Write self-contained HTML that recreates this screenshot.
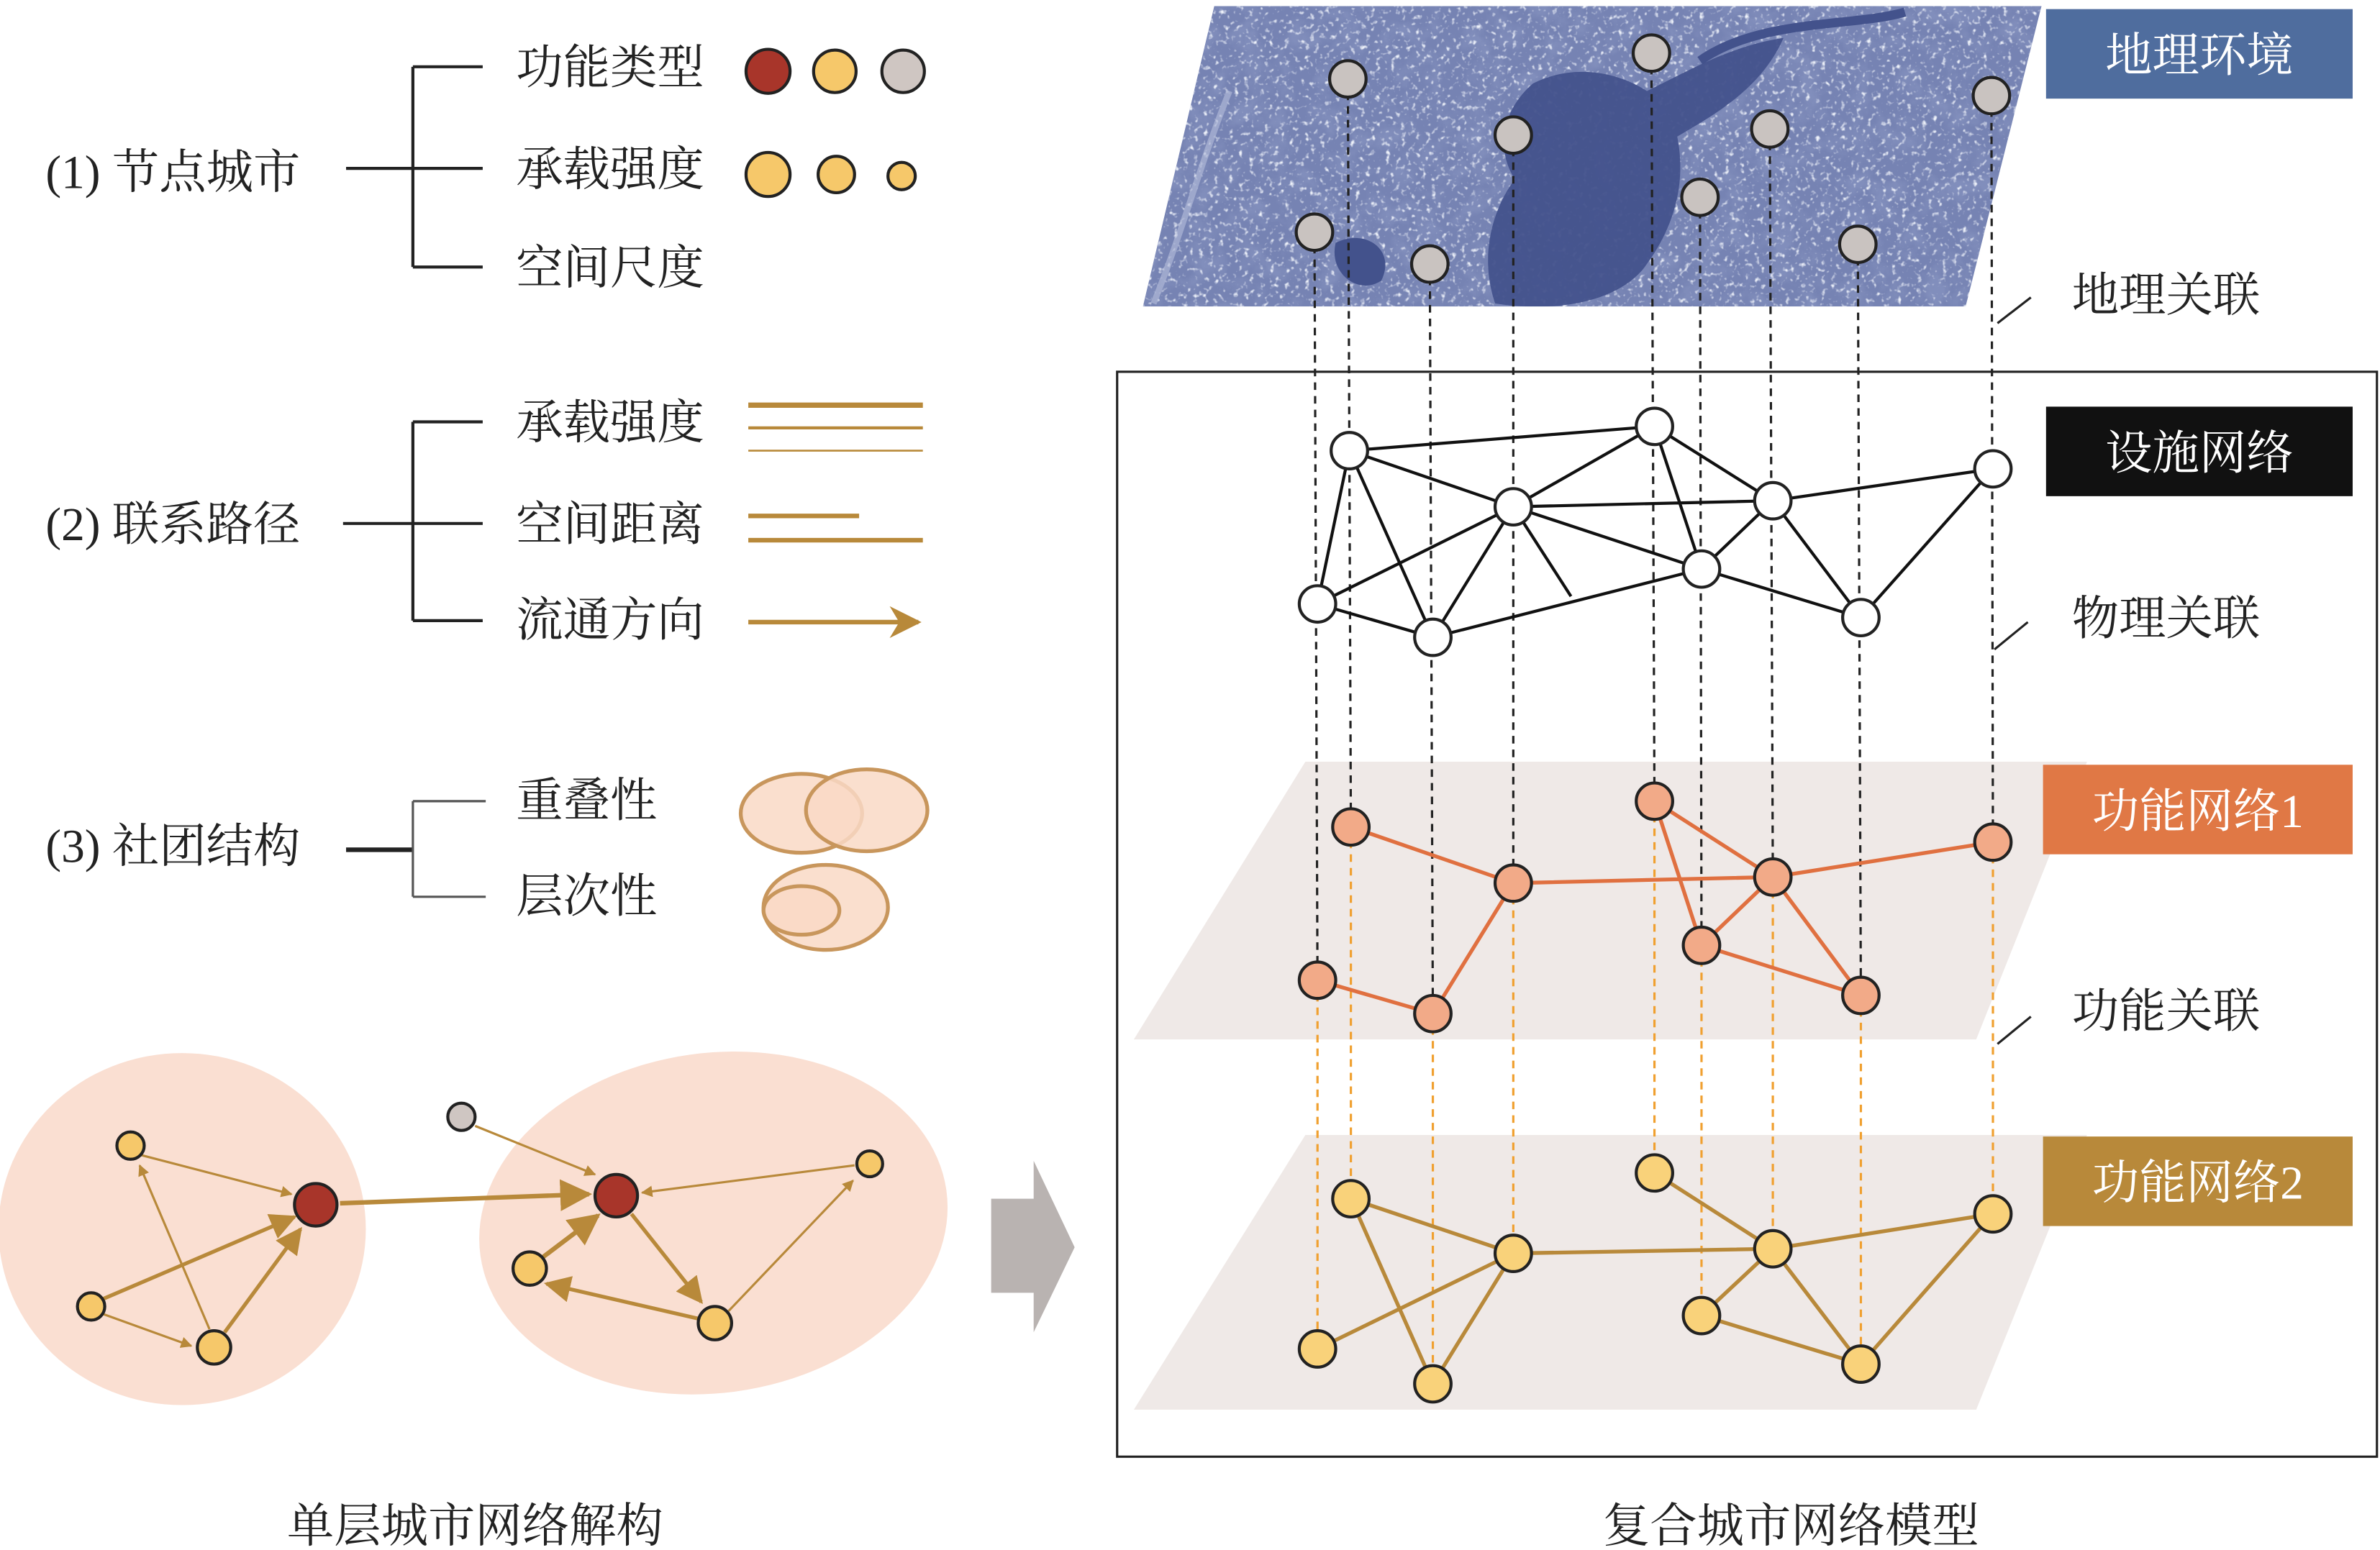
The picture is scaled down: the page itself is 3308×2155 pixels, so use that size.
<!DOCTYPE html>
<html><head><meta charset="utf-8">
<style>
html,body{margin:0;padding:0;background:#fff;}
svg{display:block;}
text{font-family:"Liberation Serif","Noto Serif CJK SC",serif;}
</style></head>
<body>
<svg width="3308" height="2155" viewBox="0 0 1568 1021.5" xmlns="http://www.w3.org/2000/svg">
<defs>
<marker id="ah" viewBox="0 0 10 10" refX="9" refY="5" markerWidth="5" markerHeight="5" orient="auto"><path d="M0,0 L10,5 L0,10 z" fill="#b8893a"/></marker>
<marker id="ah2" viewBox="0 0 10 10" refX="9" refY="5" markerWidth="7" markerHeight="7" orient="auto"><path d="M0,0 L10,5 L0,10 z" fill="#b8893a"/></marker>
<marker id="ahL" viewBox="0 0 10 10" refX="9" refY="5" markerWidth="9" markerHeight="7" orient="auto"><path d="M0,0 L10,5 L0,10 L3,5 z" fill="#b8893a"/></marker>
<clipPath id="sat"><path d="M800,4 L1345,4 L1295,202 L753,202 Z"/></clipPath>
<filter id="noise" x="0" y="0" width="100%" height="100%">
<feTurbulence type="fractalNoise" baseFrequency="0.06" numOctaves="4" seed="4"/>
<feColorMatrix type="matrix" values="0 0 0 0 0.22  0 0 0 0 0.27  0 0 0 0 0.5  3 0 0 0 -1.3"/>
</filter>
<filter id="speck" x="0" y="0" width="100%" height="100%">
<feTurbulence type="fractalNoise" baseFrequency="0.3" numOctaves="2" seed="9"/>
<feColorMatrix type="matrix" values="0 0 0 0 0.85  0 0 0 0 0.88  0 0 0 0 0.95  4 0 0 0 -2.3"/>
</filter>
</defs>

<!-- Left legend -->
<g font-size="31" fill="#222">
<text x="30" y="124">(1)&#160;节点城市</text>
<text x="30" y="356">(2)&#160;联系路径</text>
<text x="30" y="568">(3)&#160;社团结构</text>
<text x="340" y="55">功能类型</text>
<text x="340" y="122">承载强度</text>
<text x="340" y="187">空间尺度</text>
<text x="340" y="289">承载强度</text>
<text x="340" y="356">空间距离</text>
<text x="340" y="419">流通方向</text>
<text x="340" y="538">重叠性</text>
<text x="340" y="601">层次性</text>
</g>
<g stroke="#222" stroke-width="2" fill="none">
<path d="M228,111 H272 M272,44 V176 M272,44 H318 M272,111 H318 M272,176 H318"/>
<path d="M226,345 H272 M272,278 V409 M272,278 H318 M272,345 H318 M272,409 H318"/>
<path d="M228,560 H272" stroke-width="3"/>
<path d="M272,528 V591 M272,528 H320 M272,591 H320" stroke="#555" stroke-width="1.5"/>
</g>
<g stroke="#222" stroke-width="2">
<circle cx="506" cy="47" r="14.5" fill="#a8352a"/>
<circle cx="550" cy="47" r="14" fill="#f6c86a"/>
<circle cx="595" cy="47" r="14" fill="#cfc6c2"/>
<circle cx="506" cy="115" r="14.5" fill="#f6c86a"/>
<circle cx="551" cy="115" r="12" fill="#f6c86a"/>
<circle cx="594" cy="116" r="9" fill="#f6c86a"/>
</g>
<g stroke="#b8893a" fill="none">
<path d="M493,267 H608" stroke-width="3.5"/>
<path d="M493,282 H608" stroke-width="2"/>
<path d="M493,297 H608" stroke-width="1.2"/>
<path d="M493,340 H566" stroke-width="3"/>
<path d="M493,356 H608" stroke-width="3"/>
<path d="M493,410 H605" stroke-width="3" marker-end="url(#ahL)"/>
</g>
<g stroke="#c8965c" stroke-width="2.5" fill="#f9d9c6" fill-opacity="0.85">
<ellipse cx="528" cy="536" rx="40" ry="26"/>
<ellipse cx="571" cy="534" rx="40" ry="27"/>
<ellipse cx="544" cy="598" rx="41" ry="28"/>
<ellipse cx="528" cy="600" rx="25" ry="16"/>
</g>

<!-- Bottom-left network -->
<ellipse cx="120" cy="810" rx="121" ry="116" fill="#fadfd2"/>
<ellipse cx="470" cy="806" rx="155" ry="112" fill="#fadfd2" transform="rotate(-8 470 806)"/>
<g stroke="#b8893a" fill="none">
<path d="M92,761 L192,787" stroke-width="1.5" marker-end="url(#ah)"/>
<path d="M138,876 L92,768" stroke-width="1.5" marker-end="url(#ah)"/>
<path d="M68,856 L194,802" stroke-width="2.5" marker-end="url(#ah2)"/>
<path d="M68,866 L126,887" stroke-width="1.5" marker-end="url(#ah)"/>
<path d="M148,878 L198,810" stroke-width="2.5" marker-end="url(#ah2)"/>
<path d="M224,793 L388,787" stroke-width="3" marker-end="url(#ah2)"/>
<path d="M313,742 L392,774" stroke-width="1.5" marker-end="url(#ah)"/>
<path d="M563,768 L423,786" stroke-width="1.5" marker-end="url(#ah)"/>
<path d="M357,829 L394,801" stroke-width="3" marker-end="url(#ah2)"/>
<path d="M416,800 L462,858" stroke-width="2.5" marker-end="url(#ah2)"/>
<path d="M460,869 L360,846" stroke-width="2.5" marker-end="url(#ah2)"/>
<path d="M480,864 L562,778" stroke-width="1.5" marker-end="url(#ah)"/>
</g>
<g stroke="#222" stroke-width="2">
<circle cx="86" cy="755" r="9" fill="#f6c86a"/>
<circle cx="60" cy="861" r="9" fill="#f6c86a"/>
<circle cx="141" cy="888" r="11" fill="#f6c86a"/>
<circle cx="208" cy="794" r="14" fill="#a8352a"/>
<circle cx="304" cy="736" r="9" fill="#cfc6c2"/>
<circle cx="406" cy="788" r="14" fill="#a8352a"/>
<circle cx="573" cy="767" r="8.5" fill="#f6c86a"/>
<circle cx="349" cy="836" r="11" fill="#f6c86a"/>
<circle cx="471" cy="872" r="11" fill="#f6c86a"/>
</g>
<path d="M653,790 H681 V765 L708,822 L681,878 V852 H653 Z" fill="#b9b3b1"/>

<text x="313" y="1016" font-size="31" text-anchor="middle" fill="#222">单层城市网络解构</text>
<text x="1180" y="1016" font-size="31" text-anchor="middle" fill="#222">复合城市网络模型</text>

<!-- Right: satellite -->
<g clip-path="url(#sat)">
<rect x="750" y="0" width="600" height="210" fill="#7683b3"/>
<rect x="750" y="0" width="600" height="210" filter="url(#noise)"/>
<rect x="750" y="0" width="600" height="210" filter="url(#speck)"/>
<path d="M1010,55 C1040,40 1070,50 1085,60 C1110,48 1140,30 1175,25 C1160,60 1125,78 1105,90 C1112,125 1100,155 1082,178 C1060,203 1015,205 985,200 C975,170 982,140 998,118 C985,98 990,72 1010,55 Z" fill="#43528c" opacity="0.95"/>
<path d="M880,160 C900,150 920,165 910,185 C895,195 875,180 880,160 Z" fill="#43528c"/>
<path d="M1120,40 C1160,12 1220,18 1255,8" stroke="#43528c" stroke-width="6" fill="none"/>
<path d="M760,200 C780,150 790,110 810,60" stroke="#b8c0dc" stroke-width="4" fill="none" opacity="0.6"/>
</g>

<!-- Planes -->
<path d="M860,502 L1375,502 L1302,685 L747,685 Z" fill="#efe9e7"/>
<path d="M860,748 L1375,748 L1302,929 L747,929 Z" fill="#efe9e7"/>

<rect x="736" y="245" width="830" height="715" fill="none" stroke="#222" stroke-width="1.5"/>

<!-- Vertical dashed -->
<g stroke="#222" stroke-width="1.5" stroke-dasharray="5,4" fill="none">
<path d="M888,52 L890,545 M1088,35 L1090,528 M997,89 L997,582 M1166,85 L1168,578 M1312,63 L1313,555 M866,153 L868,646 M942,174 L944,668 M1120,130 L1121,623 M1224,161 L1226,656"/>
</g>
<g stroke="#f0a030" stroke-width="1.5" stroke-dasharray="5,4" fill="none">
<path d="M890,545 V790 M1090,528 V773 M997,582 V826 M1168,578 V823 M1313,555 V800 M868,646 V889 M944,668 V912 M1121,623 V867 M1226,656 V899"/>
</g>

<!-- Facility edges -->
<g stroke="#111" stroke-width="2" fill="none">
<path d="M889,297 L1090,281 M889,297 L997,334 M889,297 L868,398 M889,297 L944,420 M1090,281 L997,334 M1090,281 L1168,330 M1090,281 L1121,375 M997,334 L868,398 M997,334 L944,420 M997,334 L1168,330 M997,334 L1121,375 M997,334 L1035,393 M1168,330 L1313,309 M1168,330 L1121,375 M1168,330 L1226,407 M1313,309 L1226,407 M868,398 L944,420 M944,420 L1121,375 M1121,375 L1226,407"/>
</g>
<g stroke="#e07040" stroke-width="2.5" fill="none">
<path d="M890,545 L997,582 M997,582 L1168,578 M1168,578 L1313,555 M997,582 L944,668 M868,646 L944,668 M1090,528 L1168,578 M1090,528 L1121,623 M1168,578 L1121,623 M1168,578 L1226,656 M1121,623 L1226,656"/>
</g>
<g stroke="#b8893a" stroke-width="2.5" fill="none">
<path d="M890,790 L944,912 M868,889 L997,826 M890,790 L997,826 M997,826 L944,912 M997,826 L1168,823 M1090,773 L1168,823 M1168,823 L1313,800 M1168,823 L1121,867 M1168,823 L1226,899 M1121,867 L1226,899 M1313,800 L1226,899"/>
</g>

<!-- Nodes -->
<g stroke="#222" stroke-width="2">
<g fill="#c9c3c0">
<circle cx="888" cy="52" r="12"/><circle cx="1088" cy="35" r="12"/><circle cx="997" cy="89" r="12"/><circle cx="1166" cy="85" r="12"/><circle cx="1312" cy="63" r="12"/><circle cx="866" cy="153" r="12"/><circle cx="942" cy="174" r="12"/><circle cx="1120" cy="130" r="12"/><circle cx="1224" cy="161" r="12"/>
</g>
<g fill="#fff">
<circle cx="889" cy="297" r="12"/><circle cx="1090" cy="281" r="12"/><circle cx="997" cy="334" r="12"/><circle cx="1168" cy="330" r="12"/><circle cx="1313" cy="309" r="12"/><circle cx="868" cy="398" r="12"/><circle cx="944" cy="420" r="12"/><circle cx="1121" cy="375" r="12"/><circle cx="1226" cy="407" r="12"/>
</g>
<g fill="#f2aa88">
<circle cx="890" cy="545" r="12"/><circle cx="1090" cy="528" r="12"/><circle cx="997" cy="582" r="12"/><circle cx="1168" cy="578" r="12"/><circle cx="1313" cy="555" r="12"/><circle cx="868" cy="646" r="12"/><circle cx="944" cy="668" r="12"/><circle cx="1121" cy="623" r="12"/><circle cx="1226" cy="656" r="12"/>
</g>
<g fill="#f9d27a">
<circle cx="890" cy="790" r="12"/><circle cx="1090" cy="773" r="12"/><circle cx="997" cy="826" r="12"/><circle cx="1168" cy="823" r="12"/><circle cx="1313" cy="800" r="12"/><circle cx="868" cy="889" r="12"/><circle cx="944" cy="912" r="12"/><circle cx="1121" cy="867" r="12"/><circle cx="1226" cy="899" r="12"/>
</g>
</g>

<!-- Label boxes -->
<rect x="1348" y="6" width="202" height="59" fill="#4f6d9e"/>
<rect x="1348" y="268" width="202" height="59" fill="#111"/>
<rect x="1346" y="504" width="204" height="59" fill="#e07845"/>
<rect x="1346" y="749" width="204" height="59" fill="#b8893a"/>
<g font-size="31" fill="#fff" text-anchor="middle">
<text x="1449" y="47">地理环境</text>
<text x="1449" y="309">设施网络</text>
<text x="1448" y="545">功能网络1</text>
<text x="1448" y="790">功能网络2</text>
</g>
<g font-size="31" fill="#222">
<text x="1365" y="205">地理关联</text>
<text x="1365" y="418">物理关联</text>
<text x="1365" y="677">功能关联</text>
</g>
<g stroke="#222" stroke-width="1.5">
<path d="M1316,213 L1338,196 M1314,428 L1336,410 M1316,688 L1338,670"/>
</g>
</svg>
</body></html>
